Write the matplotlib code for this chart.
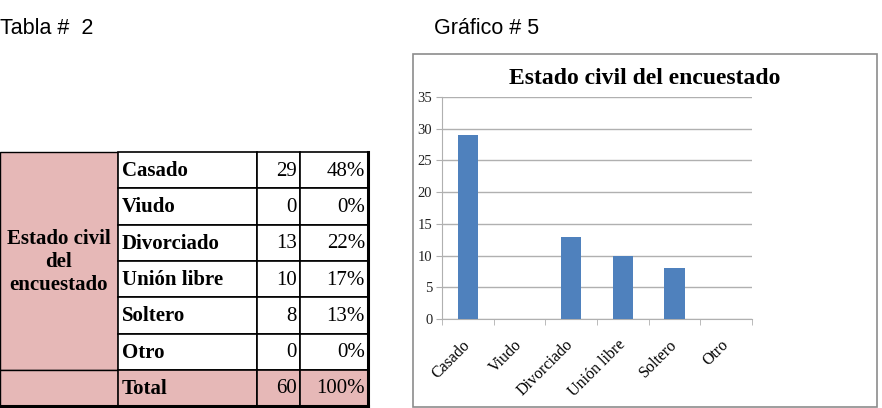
import matplotlib.pyplot as plt
from matplotlib.patches import Rectangle

# datos de la tabla y del grafico
categorias = ['Casado', 'Viudo', 'Divorciado', 'Unión libre', 'Soltero', 'Otro']
frecuencias = [29, 0, 13, 10, 8, 0]
porcentajes = ['48%', '0%', '22%', '17%', '13%', '0%']
total_frec = 60
total_pct = '100%'
titulo = 'Estado civil del encuestado'
yticks = [0, 5, 10, 15, 20, 25, 30, 35]

rosa = '#E6B8B7'
azul = '#4F81BD'
serif = 'Liberation Serif'

fig = plt.figure(figsize=(8.82, 4.08), dpi=100)

# capa de fondo en pixeles para la tabla y los textos
bg = fig.add_axes([0, 0, 1, 1])
bg.set_xlim(0, 882)
bg.set_ylim(408, 0)
bg.axis('off')

bg.text(0, 29, 'Tabla #  2', fontsize=15.5, family='Liberation Sans', va='center')
bg.text(434, 29, 'Gráfico # 5', fontsize=15.5, family='Liberation Sans', va='center')

# tabla
cols = [0, 118, 257, 300, 368]
top = 152
alto = 36.3
n = len(categorias)
fs = 15

# celda combinada
bg.add_patch(Rectangle((cols[0], top), cols[1] - cols[0], alto * n, fc=rosa, ec='black', lw=1))
bg.text((cols[0] + cols[1]) / 2, top + alto * n / 2 + 1, 'Estado civil\ndel\nencuestado',
        ha='center', va='center', fontsize=fs, family=serif, weight='bold', linespacing=1.2)

filas = list(zip(categorias, [str(v) for v in frecuencias], porcentajes))
filas.append(('Total', str(total_frec), total_pct))
for i, (cat, frec, pct) in enumerate(filas):
    y = top + alto * i
    fc = rosa if cat == 'Total' else 'white'
    if cat == 'Total':
        bg.add_patch(Rectangle((cols[0], y), cols[1] - cols[0], alto, fc=rosa, ec='black', lw=1))
    for j in range(1, 4):
        bg.add_patch(Rectangle((cols[j], y), cols[j + 1] - cols[j], alto, fc=fc, ec='black', lw=1.2))
    yc = y + alto / 2 + 1
    bg.text(cols[1] + 4, yc, cat, ha='left', va='center', fontsize=fs, family=serif, weight='bold')
    bg.text(cols[3] - 3, yc, frec, ha='right', va='center', fontsize=fs, family=serif)
    bg.text(cols[4] - 3, yc, pct, ha='right', va='center', fontsize=fs, family=serif)

# bordes gruesos
fondo = top + alto * (n + 1)
bg.plot([cols[4], cols[4]], [top, fondo], color='black', lw=2.2)
bg.plot([cols[0], cols[4]], [fondo, fondo], color='black', lw=2.2)

# marco del grafico
bg.add_patch(Rectangle((413, 54), 464, 353, fc='white', ec='#8C8C8C', lw=1.2))
bg.text(645, 79, titulo, ha='center', va='center', fontsize=17, family=serif, weight='bold')

# grafico de barras
ax = fig.add_axes([442 / 882, (408 - 319) / 408, 310 / 882, 222 / 408])
x = list(range(n))
ax.bar(x, frecuencias, width=0.39, color=azul, zorder=3)
ax.set_xlim(-0.5, n - 0.5)
ax.set_ylim(0, 35)
ax.set_yticks(yticks)
ax.set_yticklabels([str(t) for t in yticks], family=serif, fontsize=10.5, color='#222222')
ax.grid(axis='y', color='#B0B0B0', lw=1, zorder=0)
ax.tick_params(axis='y', length=4, color='#B0B0B0', pad=3)
ax.set_xticks(x)
ax.set_xticklabels(categorias, rotation=45, ha='right', va='center', rotation_mode='anchor',
                   family=serif, fontsize=11.5)
ax.tick_params(axis='x', which='major', length=0, pad=17)
ax.set_xticks([i - 0.5 for i in range(n + 1)], minor=True)
ax.tick_params(axis='x', which='minor', length=4, color='#B0B0B0')
for s in ['top', 'right']:
    ax.spines[s].set_visible(False)
for s in ['left', 'bottom']:
    ax.spines[s].set_color('#B0B0B0')

fig.savefig('out.png', dpi=100)
